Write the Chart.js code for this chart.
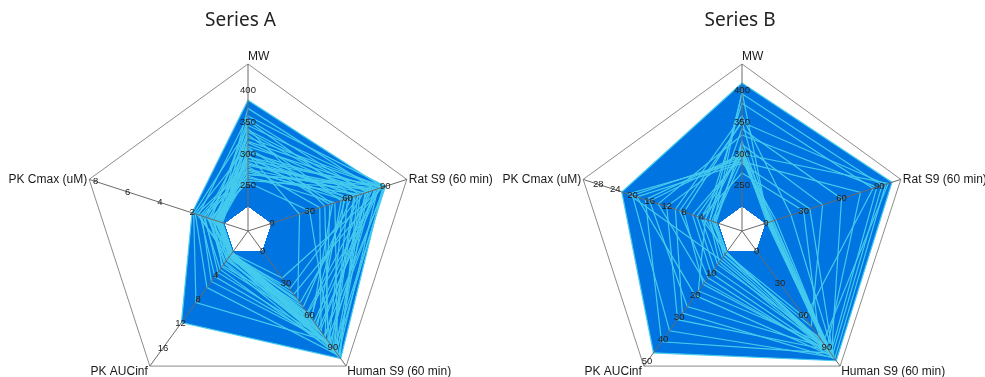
<!DOCTYPE html>
<html>
<head>
<meta charset="utf-8">
<script src="https://cdn.jsdelivr.net/npm/chart.js@4"></script>
<style>
  html, body { margin: 0; padding: 0; background: #fff; overflow: hidden; }
  #wrap { position: relative; width: 985px; height: 377px; }
  canvas { position: absolute; top: 0; }
  #chartA { left: 0; }
  #chartB { left: 490px; }
</style>
</head>
<body>
<div id="wrap">
  <canvas id="chartA" width="500" height="377"></canvas>
  <canvas id="chartB" width="495" height="377"></canvas>
</div>
<script>
const axisLabels = ['MW', 'Rat S9 (60 min)', 'Human S9 (60 min)', 'PK AUCinf', 'PK Cmax (uM)'];

// axis ranges: [value on the inner pentagon, value on the rim]
const rangesA = [[218, 442], [0, 107], [0, 107], [0, 19], [0, 8.4]];
const rangesB = [[218, 442], [0, 107], [0, 107], [0, 52], [0, 31.5]];

const ticksA = [[250, 300, 350, 400], [0, 30, 60, 90], [0, 30, 60, 90], [4, 8, 12, 16], [2, 4, 6, 8]];
const ticksB = [[250, 300, 350, 400], [0, 30, 60, 90], [0, 30, 60, 90], [10, 20, 30, 40, 50], [4, 8, 12, 16, 20, 24, 28]];

// Series A compounds (one entry per compound, same order in every array)
const mwA = [385, 372, 360, 352, 345, 338, 330, 326, 318, 312, 308, 303, 298, 295, 291, 287, 284, 280,
             276, 272, 268, 265, 262, 258, 255, 300, 320, 340, 282, 296, 268, 310, 355, 290, 275, 335];
const ratA = [88, 82, 90, 65, 86, 76, 55, 89, 72, 84, 60, 79, 46, 87, 68, 58, 81, 38,
              74, 63, 90, 50, 70, 83, 30, 22, 88, 42, 78, 66, 85, 48, 75, 89, 57, 70];
const humanA = [100, 74, 91, 88, 58, 95, 70, 83, 48, 97, 92, 66, 80, 40, 99, 62, 86, 75,
                93, 52, 79, 96, 35, 68, 88, 45, 25, 84, 57, 90, 72, 63, 80, 94, 85, 98];
const aucA = [11.8, 0.6, 1.2, 0.4, 2.4, 0.8, 0.3, 3.5, 0.5, 6.0, 0.2, 1.5, 0.9, 0.4, 2.0, 0.3, 4.2, 0.7,
              0.5, 1.1, 0.2, 3.0, 0.6, 0.4, 1.8, 0.5, 0.3, 8.5, 0.8, 0.6, 2.6, 0.4, 0.7, 1.3, 5.0, 0.3];
const cmaxA = [2.0, 0.4, 1.6, 0.3, 0.9, 0.5, 0.2, 1.2, 0.6, 1.8, 0.1, 0.7, 0.4, 0.3, 1.0, 0.2, 1.5, 0.5,
               0.3, 0.8, 0.2, 1.3, 0.4, 0.6, 0.9, 0.3, 0.2, 1.9, 1.7, 0.5, 0.6, 1.1, 0.8, 0.4, 1.4, 0.2];

// Series B compounds
const mwB = [412, 300, 305, 298, 296, 302, 308, 293, 310, 290, 320, 395, 350, 340, 300, 285, 330, 315,
             360, 288, 380, 398, 352, 270];
const ratB = [100, 3, 2, 4, 5, 1, 6, 3, 2, 8, 4, 92, 95, 60, 97, 35, 88, 45,
              20, 75, 85, 2, 3, 30];
const humanB = [102, 95, 92, 90, 97, 88, 94, 99, 86, 93, 91, 97, 100, 96, 85, 98, 95, 70,
                100, 90, 62, 96, 94, 80];
const aucB = [46, 41, 31, 25, 10, 8, 0.5, 36, 18, 2, 0.5, 5, 12, 3, 1, 20, 14, 2,
              28, 4, 1, 0.5, 15, 6];
const cmaxB = [22.5, 17, 12, 16, 6, 5, 4, 20, 3, 1, 0.5, 2, 9, 2, 1.5, 19, 14, 0.8,
               10, 21, 3, 1, 8, 4];

const FILL = '#0074e0';
const EDGE = '#44cbee';
// share of the radius taken by the empty inner pentagon
const HOLE = 25 / 142;

function norm(v, range) {
  return (v - range[0]) / (range[1] - range[0]);
}

function buildDatasets(cols, ranges) {
  const sets = [];
  for (let k = 0; k < cols[0].length; k++) {
    sets.push({
      data: cols.map((col, i) => norm(col[k], ranges[i])),
      backgroundColor: FILL,
      borderColor: EDGE,
      borderWidth: 1.2,
      fill: 'origin',
      pointRadius: 0,
      pointHoverRadius: 0
    });
  }
  return sets;
}

// rim, spokes, per-axis tick labels and axis names
const axisDecor = {
  id: 'axisDecor',
  beforeDatasetsDraw(chart) {
    const r = chart.scales.r;
    const ctx = chart.ctx;
    ctx.save();
    ctx.strokeStyle = '#8c8c8c';
    ctx.lineWidth = 1;
    ctx.beginPath();
    for (let i = 0; i < axisLabels.length; i++) {
      const p = r.getPointPositionForValue(i, 1);
      if (i === 0) ctx.moveTo(p.x, p.y); else ctx.lineTo(p.x, p.y);
    }
    ctx.closePath();
    ctx.stroke();
    ctx.restore();
  },
  afterDatasetsDraw(chart, args, opts) {
    const r = chart.scales.r;
    const ctx = chart.ctx;
    ctx.save();

    ctx.strokeStyle = '#6a6a6a';
    ctx.lineWidth = 1;
    for (let i = 0; i < axisLabels.length; i++) {
      const c = r.getPointPositionForValue(i, r.min);
      const p = r.getPointPositionForValue(i, 1);
      ctx.beginPath();
      ctx.moveTo(c.x, c.y);
      ctx.lineTo(p.x, p.y);
      ctx.stroke();
    }

    ctx.fillStyle = '#222';
    ctx.font = '9.5px "Liberation Sans", Arial, sans-serif';
    ctx.textAlign = 'center';
    ctx.textBaseline = 'middle';
    opts.ticks.forEach((list, i) => {
      list.forEach(v => {
        const p = r.getPointPositionForValue(i, norm(v, opts.ranges[i]));
        ctx.fillText(String(v), p.x, p.y);
      });
    });

    ctx.fillStyle = '#1a1a1a';
    ctx.font = '12px "Liberation Sans", Arial, sans-serif';
    const place = [
      { align: 'left', base: 'bottom', dx: 0, dy: -1 },
      { align: 'left', base: 'middle', dx: 2, dy: 0 },
      { align: 'left', base: 'top', dx: 1, dy: 0 },
      { align: 'right', base: 'top', dx: -2, dy: 0 },
      { align: 'right', base: 'middle', dx: -2, dy: 0 }
    ];
    axisLabels.forEach((name, i) => {
      const p = r.getPointPositionForValue(i, 1);
      ctx.textAlign = place[i].align;
      ctx.textBaseline = place[i].base;
      ctx.fillText(name, p.x + place[i].dx, p.y + place[i].dy);
    });
    ctx.restore();
  }
};

function makeRadar(canvasId, title, cols, ranges, ticks, geo, pad) {
  return new Chart(document.getElementById(canvasId), {
    type: 'radar',
    data: { labels: axisLabels, datasets: buildDatasets(cols, ranges) },
    plugins: [axisDecor],
    options: {
      responsive: false,
      animation: false,
      events: [],
      layout: { padding: pad },
      elements: { line: { tension: 0 } },
      scales: {
        r: {
          min: -HOLE,
          max: 1,
          ticks: { display: false },
          grid: { display: false },
          angleLines: { display: false },
          pointLabels: { display: false },
          afterFit(scale) {
            scale.xCenter = geo.cx;
            scale.yCenter = geo.cy;
            scale.drawingArea = geo.r;
          }
        }
      },
      plugins: {
        legend: { display: false },
        tooltip: { enabled: false },
        filler: { drawTime: 'beforeDatasetsDraw' },
        title: {
          display: true,
          text: title,
          color: '#222',
          font: { family: '"Noto Sans", sans-serif', size: 19, weight: 'normal' },
          padding: { top: 9, bottom: 10 }
        },
        axisDecor: { ranges, ticks }
      }
    }
  });
}

makeRadar('chartA', 'Series A', [mwA, ratA, humanA, aucA, cmaxA], rangesA, ticksA,
  { cx: 248, cy: 231, r: 167 }, { left: 0, right: 19 });
makeRadar('chartB', 'Series B', [mwB, ratB, humanB, aucB, cmaxB], rangesB, ticksB,
  { cx: 252, cy: 231, r: 167 }, { left: 5, right: 0 });
</script>
</body>
</html>
